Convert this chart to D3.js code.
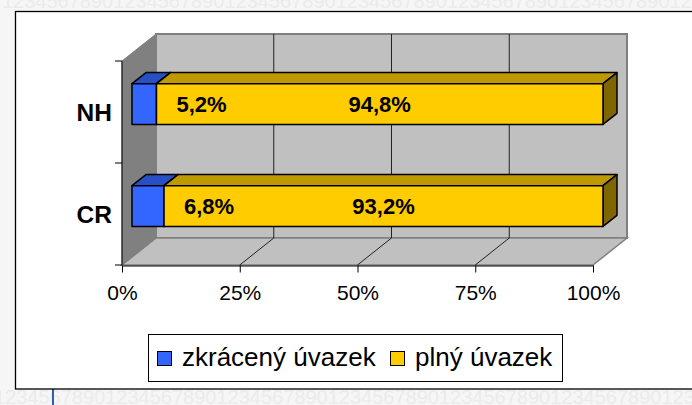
<!DOCTYPE html>
<html>
<head>
<meta charset="utf-8">
<script src="https://cdn.jsdelivr.net/npm/d3@7"></script>
<style>
  html, body { margin: 0; padding: 0; background: #f6f6f6; }
  svg { display: block; }
  text { font-family: "Liberation Sans", Arial, sans-serif; }
</style>
</head>
<body>
<svg id="chart" width="692" height="405"></svg>
<script>
// data
var categories = ["NH", "CR"];
var seriesNames = ["zkrácený úvazek", "plný úvazek"];
var partTime = [5.2, 6.8];
var fullTime = [94.8, 93.2];
var tickValues = [0, 25, 50, 75, 100];
var tickLabels = ["0%", "25%", "50%", "75%", "100%"];
var bgDigits = "1234567890";

var colors = {
  front: ["#3366ff", "#ffcc00"],
  top:   ["#2650c4", "#bf9900"],
  side:  ["#1f3f99", "#806600"]
};

var width = 692, height = 405;
// 3d depth offset of the plot box (screen px for full depth)
var DX = 34, DY = -27;
var zFront = 0.294, zBack = 0.706;

var svg = d3.select("#chart");

// faint digit rows visible around the chart frame
var bg = svg.append("g").attr("fill", "#ebebeb").attr("font-size", 20);
[{ x: 2, y: 8 }, { x: -6, y: 404 }].forEach(function(r) {
  bg.append("text")
    .attr("x", r.x).attr("y", r.y)
    .text(d3.range(7).map(function() { return bgDigits; }).join(""));
});
svg.append("line")
  .attr("x1", 53).attr("x2", 53).attr("y1", 389).attr("y2", 405)
  .attr("stroke", "#2f5fa8").attr("stroke-width", 2);

// chart frame
svg.append("rect")
  .attr("x", 15.5).attr("y", 11.5).attr("width", 700).attr("height", 377.5)
  .attr("fill", "#fff").attr("stroke", "#000").attr("stroke-width", 1.3);

var x = d3.scaleLinear().domain([0, 100]).range([122, 593]);
var y = d3.scaleBand().domain(categories).range([61, 265])
  .paddingInner(0.6).paddingOuter(0.3);
var yCat = d3.scaleBand().domain(categories).range([61, 265]);

function P(px, py, z) { return [px + z * DX, py + z * DY]; }
function poly(pts) { return pts.map(function(p) { return p.join(","); }).join(" "); }

var x0 = x.range()[0], x1 = x.range()[1];
var yT = yCat.range()[0], yB = yCat.range()[1];

var plot = svg.append("g");

// walls and floor
plot.append("polygon")
  .attr("points", poly([P(x0, yT, 1), P(x1, yT, 1), P(x1, yB, 1), P(x0, yB, 1)]))
  .attr("fill", "#c0c0c0").attr("stroke", "#808080").attr("stroke-width", 2);
plot.append("polygon")
  .attr("points", poly([P(x0, yB, 0), P(x1, yB, 0), P(x1, yB, 1), P(x0, yB, 1)]))
  .attr("fill", "#c0c0c0").attr("stroke", "#808080").attr("stroke-width", 1.5);
plot.append("polygon")
  .attr("points", poly([P(x0, yT, 0), P(x0, yT, 1), P(x0, yB, 1), P(x0, yB, 0)]))
  .attr("fill", "#808080").attr("stroke", "#808080").attr("stroke-width", 1);

// gridlines
tickValues.slice(1, -1).forEach(function(t) {
  plot.append("polyline")
    .attr("points", poly([P(x(t), yT, 1), P(x(t), yB, 1), P(x(t), yB, 0)]))
    .attr("fill", "none").attr("stroke", "#222").attr("stroke-width", 1);
});

// axes
var xAxis = d3.axisBottom(x).tickValues(tickValues)
  .tickFormat(function(d, i) { return tickLabels[i]; })
  .tickSize(7).tickSizeOuter(0).tickPadding(13);
var gx = svg.append("g").attr("transform", "translate(0," + (yB + 0.5) + ")").call(xAxis);
gx.selectAll("text").attr("font-size", 21).attr("font-family", "Liberation Sans, Arial, sans-serif").attr("fill", "#000");
gx.selectAll("line, path").attr("stroke", "#000");

var gy = svg.append("g");
gy.append("line").attr("x1", x0).attr("x2", x0).attr("y1", yT).attr("y2", yB).attr("stroke", "#000");
[yT].concat(categories.map(function(c) { return yCat(c) + yCat.bandwidth(); })).forEach(function(v) {
  gy.append("line").attr("x1", x0 - 7).attr("x2", x0).attr("y1", v).attr("y2", v).attr("stroke", "#000");
});
gy.selectAll("text.cat").data(categories).enter().append("text")
  .attr("class", "cat")
  .attr("x", x0 - 10)
  .attr("y", function(d) { return yCat(d) + yCat.bandwidth() / 2; })
  .attr("dy", "0.36em")
  .attr("text-anchor", "end")
  .attr("font-size", 24.5).attr("font-weight", "bold")
  .text(function(d) { return d; });

// bars
var bars = svg.append("g");
categories.forEach(function(c, i) {
  var vals = [partTime[i], fullTime[i]];
  var top = y(c), bot = y(c) + y.bandwidth();
  var acc = 0;
  vals.forEach(function(v, s) {
    var a = x(acc), b = x(acc + v);
    acc += v;
    var g = bars.append("g").attr("stroke", "#000").attr("stroke-width", 1.5).attr("stroke-linejoin", "round");
    g.append("polygon").attr("points", poly([P(a, top, zFront), P(b, top, zFront), P(b, top, zBack), P(a, top, zBack)]))
      .attr("fill", colors.top[s]);
    g.append("polygon").attr("points", poly([P(b, top, zFront), P(b, top, zBack), P(b, bot, zBack), P(b, bot, zFront)]))
      .attr("fill", colors.side[s]);
    g.append("polygon").attr("points", poly([P(a, top, zFront), P(b, top, zFront), P(b, bot, zFront), P(a, bot, zFront)]))
      .attr("fill", colors.front[s]);
  });
  // value labels
  var cy = (top + bot) / 2 + zFront * DY;
  var blueEnd = x(partTime[i]) + zFront * DX;
  var barEnd = x(100) + zFront * DX;
  bars.append("text")
    .attr("x", blueEnd + 20).attr("y", cy).attr("dy", "0.36em")
    .attr("font-size", 22).attr("font-weight", "bold")
    .text(d3.format(".1f")(partTime[i]).replace(".", ",") + "%");
  bars.append("text")
    .attr("x", (blueEnd + barEnd) / 2).attr("y", cy).attr("dy", "0.36em")
    .attr("text-anchor", "middle")
    .attr("font-size", 22).attr("font-weight", "bold")
    .text(d3.format(".1f")(fullTime[i]).replace(".", ",") + "%");
});

// legend
var legend = svg.append("g");
legend.append("rect")
  .attr("x", 148.5).attr("y", 334.5).attr("width", 414).attr("height", 47)
  .attr("fill", "#fff").attr("stroke", "#000").attr("stroke-width", 1);
var legendX = [157, 390];
seriesNames.forEach(function(name, s) {
  legend.append("rect")
    .attr("x", legendX[s] + 0.5).attr("y", 351.5).attr("width", 14).attr("height", 14)
    .attr("fill", colors.front[s]).attr("stroke", "#000").attr("stroke-width", 1);
  legend.append("text")
    .attr("x", legendX[s] + 25).attr("y", 366)
    .attr("font-size", 26)
    .text(name);
});
</script>
</body>
</html>
